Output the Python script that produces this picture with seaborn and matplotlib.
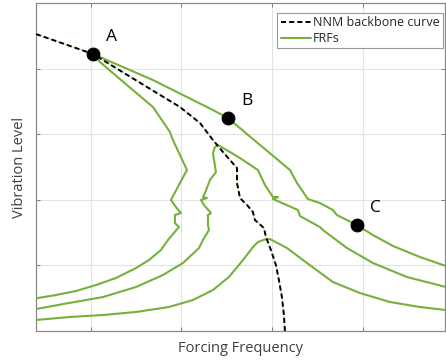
import matplotlib
matplotlib.use("Agg")
import matplotlib.pyplot as plt
from matplotlib.lines import Line2D
import pandas as pd
import seaborn as sns

# Nonlinear normal mode backbone (frequency, amplitude)
backbone_x = [0.397, 1.025, 1.620, 1.983, 2.204, 2.347, 2.457, 2.534, 2.612, 2.612,
              2.645, 2.722, 2.788, 2.810, 2.909, 2.931, 2.986, 3.041, 3.074, 3.107,
              3.129, 3.140]
backbone_y = [4.527, 4.223, 3.720, 3.415, 3.171, 2.912, 2.729, 2.607, 2.485, 2.256,
              2.027, 1.921, 1.814, 1.692, 1.570, 1.433, 1.235, 1.006, 0.777, 0.518,
              0.244, 0.0]

# Frequency response curves at three forcing levels (high -> low)
frf_high_x = [0.397, 0.617, 0.837, 1.058, 1.278, 1.499, 1.642, 1.774, 1.851, 1.972,
              1.928, 1.928, 1.994, 1.939, 1.884, 1.983, 2.061, 1.906, 1.873, 1.686,
              1.399, 1.102, 1.025, 1.686, 2.347, 2.512, 2.788, 3.196, 3.273, 3.394,
              3.526, 3.669, 3.713, 3.934, 4.110, 4.331, 4.628, 4.915]
frf_high_y = [0.498, 0.549, 0.610, 0.701, 0.808, 0.960, 1.082, 1.235, 1.387, 1.585,
              1.646, 1.768, 1.799, 1.890, 1.997, 2.256, 2.454, 2.912, 3.034, 3.415,
              3.750, 4.101, 4.223, 3.826, 3.369, 3.247, 2.927, 2.454, 2.256, 2.012,
              1.951, 1.845, 1.768, 1.616, 1.463, 1.296, 1.128, 0.991]

frf_mid_x = [0.397, 0.760, 1.135, 1.499, 1.796, 2.017, 2.193, 2.237, 2.303, 2.292,
             2.292, 2.325, 2.248, 2.215, 2.281, 2.237, 2.259, 2.314, 2.380, 2.347,
             2.369, 2.402, 2.534, 2.645, 2.843, 2.920, 3.008, 3.063, 3.008, 3.284,
             3.306, 3.526, 3.559, 3.824, 4.110, 4.485, 4.915]
frf_mid_y = [0.335, 0.427, 0.518, 0.671, 0.854, 1.037, 1.265, 1.387, 1.540, 1.616,
             1.768, 1.799, 1.921, 1.997, 2.027, 2.043, 2.104, 2.302, 2.424, 2.713,
             2.805, 2.835, 2.729, 2.637, 2.454, 2.226, 2.043, 2.043, 2.012, 1.845,
             1.753, 1.585, 1.540, 1.265, 1.037, 0.823, 0.671]

frf_low_x = [0.397, 0.760, 1.135, 1.499, 1.862, 2.127, 2.347, 2.523, 2.678, 2.788,
             2.843, 2.931, 2.975, 3.163, 3.383, 3.669, 3.967, 4.298, 4.628, 4.915]
frf_low_y = [0.168, 0.213, 0.244, 0.290, 0.366, 0.473, 0.625, 0.823, 1.082, 1.280,
             1.357, 1.402, 1.402, 1.265, 1.037, 0.747, 0.579, 0.442, 0.366, 0.320]

# Highlighted operating points on the highest-forcing FRF
point_labels = ["A", "B", "C"]
point_x = [1.025, 2.512, 3.934]
point_y = [4.223, 3.247, 1.616]

x_ticks = [1, 2, 3, 4]
y_ticks = [1, 2, 3, 4]

sns.set_style("white")
plt.rcParams["font.family"] = ["Open Sans", "DejaVu Sans"]

green = "#77b03a"
dash = (0, (2.6, 1.6))
fig = plt.figure(figsize=(4.46, 3.62), dpi=100)
ax = fig.add_axes([0.0807, 0.0856, 0.917, 0.906])

frfs = pd.concat([
    pd.DataFrame({"freq": frf_high_x, "amp": frf_high_y, "curve": "high"}),
    pd.DataFrame({"freq": frf_mid_x, "amp": frf_mid_y, "curve": "mid"}),
    pd.DataFrame({"freq": frf_low_x, "amp": frf_low_y, "curve": "low"}),
])
for name, grp in frfs.groupby("curve", sort=False):
    sns.lineplot(data=grp, x="freq", y="amp", sort=False, estimator=None,
                 color=green, lw=1.5, ax=ax, zorder=3, legend=False)

bb = pd.DataFrame({"freq": backbone_x, "amp": backbone_y})
sns.lineplot(data=bb, x="freq", y="amp", sort=False, estimator=None,
             color="#cfe3b0", lw=1.0, ax=ax, zorder=4, legend=False)
sns.lineplot(data=bb, x="freq", y="amp", sort=False, estimator=None,
             color="black", lw=1.4, ax=ax, zorder=5, legend=False,
             dashes=False, linestyle=dash)

pts = pd.DataFrame({"freq": point_x, "amp": point_y, "name": point_labels})
sns.scatterplot(data=pts, x="freq", y="amp", color="black", s=85,
                edgecolor="black", ax=ax, zorder=6, legend=False)
for lbl, px, py in zip(point_labels, point_x, point_y):
    ax.annotate(lbl, (px, py), xytext=(13.5, 12.5), textcoords="offset points",
                ha="center", va="center", fontsize=12.5, color="black", zorder=7)

# Legend entries
handles = [Line2D([], [], color="black", lw=1.4, linestyle=dash),
           Line2D([], [], color=green, lw=1.5)]
leg = ax.legend(handles, ["NNM backbone curve", "FRFs"], loc="upper right",
                bbox_to_anchor=(0.995, 0.97), fontsize=9, frameon=True,
                fancybox=False, handlelength=2.4, handletextpad=0.2,
                borderpad=0.25, labelspacing=0.25, borderaxespad=0.0)
leg.get_frame().set_edgecolor("#9a9a9a")
leg.get_frame().set_linewidth(0.8)
leg.get_frame().set_alpha(1)
for t in leg.get_texts():
    t.set_color("#262626")

ax.set_xlim(0.397, 4.904)
ax.set_ylim(0, 5.0)
ax.set_xticks(x_ticks)
ax.set_yticks(y_ticks)
ax.set_xticklabels([])
ax.set_yticklabels([])
ax.grid(True, color="#e3e3e3", lw=0.8)
ax.set_axisbelow(True)
ax.tick_params(direction="in", length=3, width=0.7, color="#7a7a7a",
               top=True, right=True, bottom=True, left=True)
for s in ax.spines.values():
    s.set_color("#8a8a8a")
    s.set_linewidth(0.9)

ax.set_xlabel("Forcing Frequency", fontsize=10.5, color="#404040", labelpad=4)
ax.set_ylabel("Vibration Level", fontsize=10.5, color="#404040", labelpad=3)

fig.savefig("out.png", dpi=100)
